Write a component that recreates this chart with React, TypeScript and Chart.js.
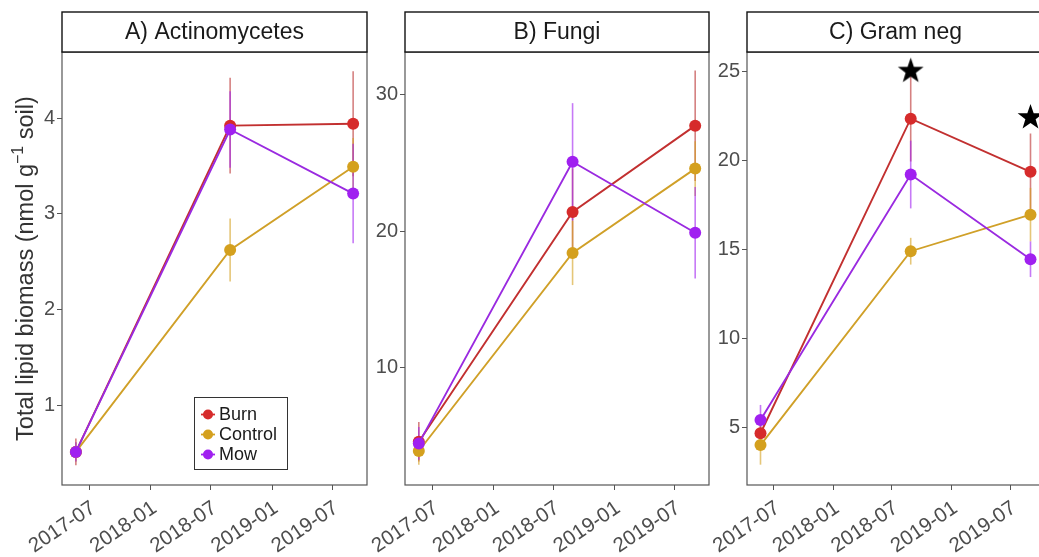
import React, { useEffect, useRef } from "react";
import { Chart, registerables } from "chart.js";

Chart.register(...registerables);

// ---------- data ----------
const sampleDates = ["2017-05-21", "2018-08-28", "2019-09-02"];
const xTickLabels = ["2017-07", "2018-01", "2018-07", "2019-01", "2019-07"];
const treatments = ["Burn", "Control", "Mow"];
const treatmentColors = ["#D62B2B", "#D4A01E", "#A020F0"];
const lineColors = ["#C23030", "#D0A028", "#9A2AE0"];
const errorColors = ["rgba(185,45,45,0.6)", "rgba(212,160,30,0.6)", "rgba(160,32,240,0.6)"];

const actinoBurn = [0.51, 3.92, 3.94];
const actinoBurnErr = [0.14, 0.5, 0.55];
const actinoControl = [0.51, 2.62, 3.49];
const actinoControlErr = [0.1, 0.33, 0.3];
const actinoMow = [0.51, 3.88, 3.21];
const actinoMowErr = [0.1, 0.4, 0.52];
const actinoYTicks = [1, 2, 3, 4];
const actinoYRange = [0.164, 4.69];

const fungiBurn = [4.57, 21.42, 27.75];
const fungiBurnErr = [1.45, 3.2, 4.05];
const fungiControl = [3.89, 18.41, 24.6];
const fungiControlErr = [1.0, 2.35, 2.0];
const fungiMow = [4.45, 25.1, 19.9];
const fungiMowErr = [1.2, 4.3, 3.35];
const fungiYTicks = [10, 20, 30];
const fungiYRange = [1.4, 33.15];

const gramNegBurn = [4.69, 22.33, 19.35];
const gramNegBurnErr = [0.9, 2.4, 2.15];
const gramNegControl = [4.03, 14.9, 16.95];
const gramNegControlErr = [1.1, 0.75, 1.5];
const gramNegMow = [5.43, 19.2, 14.45];
const gramNegMowErr = [0.85, 1.9, 1.0];
const gramNegStars: (number | null)[] = [null, 25.0, 22.4];
const gramNegYTicks = [5, 10, 15, 20, 25];
const gramNegYRange = [1.79, 26.07];

const yAxisTitleMain = "Total lipid biomass (nmol g";
const yAxisTitleSup = "\u22121";
const yAxisTitleEnd = " soil)";

// ---------- helpers ----------
const FAMILY = "'Liberation Sans', Arial, sans-serif";
const toDay = (s: string) => Date.parse(s.length === 7 ? s + "-01" : s) / 86400000;
const xValues = sampleDates.map(toDay);
const xTickValues = xTickLabels.map(toDay);
const xSpan = xValues[xValues.length - 1] - xValues[0];
const xMin = xValues[0] - 0.05 * xSpan;
const xMax = xValues[xValues.length - 1] + 0.05 * xSpan;

function makeStar(r: number): HTMLCanvasElement {
  const c = document.createElement("canvas");
  const s = Math.ceil(r * 2 + 2);
  c.width = s;
  c.height = s;
  const ctx = c.getContext("2d")!;
  ctx.fillStyle = "#000";
  ctx.beginPath();
  for (let k = 0; k < 10; k++) {
    const rad = k % 2 === 0 ? r : r * 0.4;
    const a = -Math.PI / 2 + (k * Math.PI) / 5;
    const px = s / 2 + rad * Math.cos(a);
    const py = s / 2 + rad * Math.sin(a);
    if (k === 0) ctx.moveTo(px, py);
    else ctx.lineTo(px, py);
  }
  ctx.closePath();
  ctx.fill();
  return c;
}

type Series = { values: number[]; errors: number[] };
type PanelProps = {
  title: string;
  series: Series[];
  yTicks: number[];
  yRange: number[];
  stars?: (number | null)[];
  left: number;
  width: number;
  axisWidth: number;
  showLegend: boolean;
  showYTitle: boolean;
};

function Panel(props: PanelProps) {
  const ref = useRef<HTMLCanvasElement>(null);
  useEffect(() => {
    const canvas = ref.current!;
    const datasets: any[] = props.series.map((s, i) => ({
      type: "line",
      label: treatments[i],
      data: s.values.map((v, k) => ({ x: xValues[k], y: v })),
      errors: s.errors,
      errorColor: errorColors[i],
      borderColor: lineColors[i],
      backgroundColor: treatmentColors[i],
      pointBackgroundColor: treatmentColors[i],
      borderWidth: 1.9,
      pointRadius: 6,
      pointBorderWidth: 0,
      pointHoverRadius: 6,
      tension: 0,
      order: 3 - i,
    }));
    if (props.stars) {
      const star = makeStar(13.5);
      datasets.push({
        type: "scatter",
        label: "sig",
        data: props.stars
          .map((v, k) => (v === null ? null : { x: xValues[k], y: v }))
          .filter((d) => d !== null),
        pointStyle: star,
        pointRadius: 13,
        showLine: false,
        order: 0,
      });
    }

    const decor = {
      id: "decor",
      beforeDatasetsDraw(chart: any) {
        const { ctx, chartArea, scales } = chart;
        ctx.save();
        ctx.beginPath();
        ctx.rect(chartArea.left, chartArea.top, chartArea.right - chartArea.left, chartArea.bottom - chartArea.top);
        ctx.clip();
        chart.data.datasets.forEach((ds: any) => {
          if (!ds.errors) return;
          ctx.strokeStyle = ds.errorColor;
          ctx.lineWidth = 1.6;
          ds.data.forEach((pt: any, k: number) => {
            const e = ds.errors[k];
            const x = scales.x.getPixelForValue(pt.x);
            const y1 = scales.y.getPixelForValue(pt.y - e);
            const y2 = scales.y.getPixelForValue(pt.y + e);
            ctx.beginPath();
            ctx.moveTo(x, y1);
            ctx.lineTo(x, y2);
            ctx.stroke();
          });
        });
        ctx.restore();
      },
      afterDraw(chart: any) {
        const { ctx, chartArea } = chart;
        const w = chartArea.right - chartArea.left;
        ctx.save();
        // panel border
        ctx.strokeStyle = "#555";
        ctx.lineWidth = 1.2;
        ctx.strokeRect(chartArea.left, chartArea.top, w, chartArea.bottom - chartArea.top);
        // strip
        const stripTop = 12;
        ctx.fillStyle = "#fff";
        ctx.fillRect(chartArea.left, stripTop, w, chartArea.top - stripTop);
        ctx.strokeStyle = "#111";
        ctx.lineWidth = 1.4;
        ctx.strokeRect(chartArea.left, stripTop, w, chartArea.top - stripTop);
        ctx.fillStyle = "#1a1a1a";
        ctx.font = "23px " + FAMILY;
        ctx.textAlign = "center";
        ctx.textBaseline = "middle";
        ctx.fillText(props.title, chartArea.left + w / 2, (stripTop + chartArea.top) / 2 + 1);

        if (props.showYTitle) {
          ctx.save();
          ctx.translate(27, (chartArea.top + chartArea.bottom) / 2);
          ctx.rotate(-Math.PI / 2);
          const big = "23.5px " + FAMILY;
          const small = "16px " + FAMILY;
          ctx.font = big;
          const w1 = ctx.measureText(yAxisTitleMain).width;
          const w3 = ctx.measureText(yAxisTitleEnd).width;
          ctx.font = small;
          const w2 = ctx.measureText(yAxisTitleSup).width;
          let x = -(w1 + w2 + w3) / 2;
          ctx.fillStyle = "#333";
          ctx.textAlign = "left";
          ctx.textBaseline = "middle";
          ctx.font = big;
          ctx.fillText(yAxisTitleMain, x, 0);
          x += w1;
          ctx.font = small;
          ctx.fillText(yAxisTitleSup, x, -8);
          x += w2;
          ctx.font = big;
          ctx.fillText(yAxisTitleEnd, x, 0);
          ctx.restore();
        }

        if (props.showLegend) {
          const bx = chartArea.left + 132;
          const by = 397;
          ctx.fillStyle = "#fff";
          ctx.fillRect(bx, by, 93, 72);
          ctx.strokeStyle = "#333";
          ctx.lineWidth = 1;
          ctx.strokeRect(bx + 0.5, by + 0.5, 93, 72);
          treatments.forEach((name, i) => {
            const ry = by + 17.5 + i * 20;
            const kx = bx + 14;
            ctx.strokeStyle = treatmentColors[i];
            ctx.lineWidth = 1.8;
            ctx.beginPath();
            ctx.moveTo(kx - 7, ry);
            ctx.lineTo(kx + 7, ry);
            ctx.stroke();
            ctx.fillStyle = treatmentColors[i];
            ctx.beginPath();
            ctx.arc(kx, ry, 5, 0, Math.PI * 2);
            ctx.fill();
            ctx.fillStyle = "#1a1a1a";
            ctx.font = "18px " + FAMILY;
            ctx.textAlign = "left";
            ctx.textBaseline = "middle";
            ctx.fillText(name, bx + 25, ry + 1);
          });
        }
        ctx.restore();
      },
    };

    const chart = new Chart(canvas, {
      type: "line",
      data: { datasets },
      options: {
        animation: false,
        responsive: false,
        devicePixelRatio: 1,
        layout: { padding: { top: 52, left: 0, right: props.width - props.axisWidth - 305, bottom: 0 } },
        plugins: { legend: { display: false }, tooltip: { enabled: false }, title: { display: false } },
        scales: {
          x: {
            type: "linear",
            min: xMin,
            max: xMax,
            afterBuildTicks: (s: any) => {
              s.ticks = xTickValues.map((v) => ({ value: v }));
            },
            afterFit: (s: any) => {
              s.height = 72;
            },
            ticks: {
              autoSkip: false,
              minRotation: 34,
              maxRotation: 34,
              padding: 6,
              labelOffset: 4,
              color: "#4d4d4d",
              font: { family: FAMILY, size: 20.5 },
              callback: (v: any) => {
                const idx = xTickValues.indexOf(Number(v));
                return idx >= 0 ? xTickLabels[idx] : "";
              },
            },
            grid: { display: true, drawOnChartArea: false, drawTicks: true, tickLength: 5, color: "#555", lineWidth: 1 },
            border: { display: false },
          },
          y: {
            type: "linear",
            min: props.yRange[0],
            max: props.yRange[1],
            afterBuildTicks: (s: any) => {
              s.ticks = props.yTicks.map((v) => ({ value: v }));
            },
            afterFit: (s: any) => {
              s.width = props.axisWidth;
            },
            ticks: {
              padding: 2,
              color: "#4d4d4d",
              font: { family: FAMILY, size: 20 },
              callback: (v: any) => String(v),
            },
            grid: { display: true, drawOnChartArea: false, drawTicks: true, tickLength: 5, color: "#555", lineWidth: 1 },
            border: { display: false },
          },
        },
      } as any,
      plugins: [decor as any],
    });
    return () => chart.destroy();
  }, []);
  return (
    <canvas
      ref={ref}
      width={props.width}
      height={557}
      style={{ position: "absolute", left: props.left, top: 0, width: props.width, height: 557 }}
    />
  );
}

export default function App() {
  return (
    <div style={{ position: "fixed", left: 0, top: 0, width: 1039, height: 557, overflow: "hidden", background: "#fff" }}>
      <Panel
        title="A) Actinomycetes"
        series={[
          { values: actinoBurn, errors: actinoBurnErr },
          { values: actinoControl, errors: actinoControlErr },
          { values: actinoMow, errors: actinoMowErr },
        ]}
        yTicks={actinoYTicks}
        yRange={actinoYRange}
        left={0}
        width={373}
        axisWidth={62}
        showLegend={true}
        showYTitle={true}
      />
      <Panel
        title="B) Fungi"
        series={[
          { values: fungiBurn, errors: fungiBurnErr },
          { values: fungiControl, errors: fungiControlErr },
          { values: fungiMow, errors: fungiMowErr },
        ]}
        yTicks={fungiYTicks}
        yRange={fungiYRange}
        left={345}
        width={370}
        axisWidth={60}
        showLegend={false}
        showYTitle={false}
      />
      <Panel
        title="C) Gram neg"
        series={[
          { values: gramNegBurn, errors: gramNegBurnErr },
          { values: gramNegControl, errors: gramNegControlErr },
          { values: gramNegMow, errors: gramNegMowErr },
        ]}
        yTicks={gramNegYTicks}
        yRange={gramNegYRange}
        stars={gramNegStars}
        left={687}
        width={371}
        axisWidth={60}
        showLegend={false}
        showYTitle={false}
      />
    </div>
  );
}
